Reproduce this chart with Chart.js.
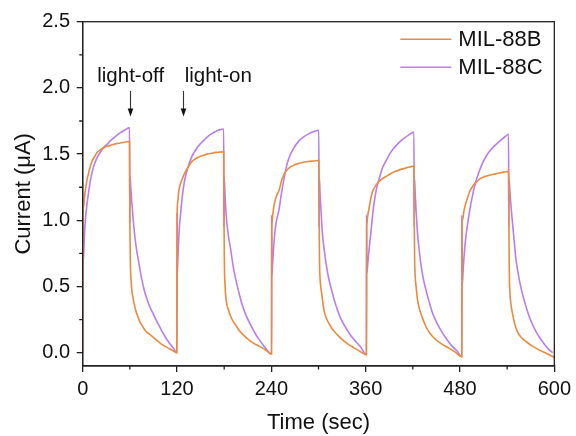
<!DOCTYPE html>
<html lang="en">
<head>
    <meta charset="UTF-8">
    <title>MIL-88B / MIL-88C photocurrent</title>
    <script src="https://cdn.jsdelivr.net/npm/chart.js@4.4.1/dist/chart.umd.min.js"></script>
    <style>
        body {
            margin: 0;
            background-color: #ffffff;
        }
        #wrap {
            width: 576px;
            height: 436px;
        }
    </style>
</head>
<body>
    <div id="wrap">
        <canvas id="photoChart" width="576" height="436"></canvas>
    </div>

    <script>
        // MIL-88B (orange) - time (sec) and current (uA)
        const timeB = [
            0, 0.3, 1, 2, 3, 5, 8, 11.5, 15, 18, 22, 26, 30, 35, 40, 47.6, 53, 59.6,
            60, 60.5, 61.2, 62, 63, 64.8, 67, 69, 72, 75, 80, 86, 92, 98.5, 105, 111, 115, 119.8,
            120.2, 121, 122, 124, 126.5, 130, 133, 136, 139, 143, 147.8, 153, 158.4, 164, 169, 174, 179.4,
            179.8, 180.2, 181, 182.5, 185, 188, 191, 194.5, 200, 207, 215, 224, 232, 240.3,
            240.5, 241, 242, 244, 247, 250, 253, 256, 259, 262.4, 268, 275, 281, 288, 294, 300.4,
            300.8, 301.3, 302, 304, 307, 310, 313.4, 318, 324, 331, 338.9, 346, 353, 361,
            361.2, 361.6, 362.5, 364, 366, 368.4, 371.5, 375, 380, 385.6, 391, 398, 404, 411, 416, 421.4,
            421.8, 422.3, 423, 424.5, 426, 428, 430, 433, 436.5, 442, 449, 457, 466, 474, 482.4,
            482.6, 483.5, 485, 487, 489.6, 492.5, 496, 500, 504.5, 510, 517, 523, 530, 536, 541.8,
            542.2, 542.7, 543.5, 545, 547, 550, 553, 558, 564, 572, 581, 590, 600
        ];
        const currentB = [
            0, 1.04, 1.10, 1.16, 1.21, 1.29, 1.37, 1.44, 1.48, 1.51, 1.53, 1.546, 1.557, 1.566, 1.575, 1.584, 1.590, 1.595,
            1.00, 0.72, 0.58, 0.51, 0.45, 0.39, 0.33, 0.29, 0.245, 0.21, 0.165, 0.135, 0.105, 0.073, 0.048, 0.028, 0.015, 0.0,
            1.06, 1.14, 1.21, 1.27, 1.31, 1.36, 1.39, 1.42, 1.445, 1.463, 1.478, 1.49, 1.50, 1.507, 1.513, 1.515, 1.517,
            0.98, 0.70, 0.52, 0.40, 0.33, 0.28, 0.24, 0.21, 0.16, 0.12, 0.08, 0.05, 0.025, -0.01,
            0.93, 0.99, 1.05, 1.13, 1.19, 1.23, 1.30, 1.345, 1.375, 1.395, 1.415, 1.43, 1.438, 1.445, 1.448, 1.452,
            1.00, 0.68, 0.56, 0.45, 0.32, 0.26, 0.22, 0.175, 0.136, 0.095, 0.06, 0.035, 0.01, -0.015,
            0.92, 0.98, 1.03, 1.08, 1.15, 1.21, 1.25, 1.28, 1.31, 1.33, 1.35, 1.37, 1.383, 1.395, 1.403, 1.41,
            0.98, 0.70, 0.58, 0.48, 0.40, 0.34, 0.30, 0.25, 0.20, 0.145, 0.10, 0.065, 0.035, 0.005, -0.03,
            0.97, 1.01, 1.07, 1.12, 1.17, 1.22, 1.256, 1.285, 1.31, 1.327, 1.34, 1.348, 1.357, 1.364, 1.37,
            0.98, 0.62, 0.46, 0.36, 0.29, 0.21, 0.16, 0.115, 0.085, 0.05, 0.02, -0.005, -0.035
        ];

        // MIL-88C (purple)
        const timeC = [
            0, 0.3, 1, 2, 3, 5, 7, 10, 13.6, 18, 22, 26, 30.6, 35, 39, 43, 47.6, 53, 59.6,
            59.9, 60.3, 61, 62.4, 64.8, 66.5, 68.8, 72, 75, 78, 81.5, 86, 90, 94, 98.5, 103, 107, 112, 116, 119.8,
            120, 120.3, 121, 122, 123, 124.4, 126.5, 128.7, 131.5, 135, 138, 141.4, 145, 150, 155, 160.5, 166, 171, 175, 179.4,
            179.7, 180.1, 181, 182.5, 185, 188, 191, 194.5, 198.5, 203, 208, 213.6, 220, 226.3, 232, 240.3,
            240.4, 240.7, 241.5, 242.5, 244, 246, 249.7, 253, 256, 259, 262.4, 268, 275, 281, 288, 294, 300.4,
            300.7, 301.1, 302, 303.5, 305, 307, 309, 312, 315.5, 320, 324, 329, 334.6, 341, 347.4, 354, 361,
            361.2, 361.5, 362.5, 364, 366.5, 368.5, 370.7, 373.5, 377, 381, 385.6, 390.5, 396, 402, 409, 415, 421.4,
            421.8, 422.2, 423, 424.5, 426, 428, 430, 433, 436.5, 440.5, 445, 451, 457.7, 464, 470, 476, 482.4,
            482.5, 482.8, 484, 485, 487, 489.6, 492.5, 496, 500, 504.5, 508.5, 513, 518, 523.6, 529, 534, 538, 541.8,
            542.1, 542.5, 543.5, 545, 547, 549, 551, 554, 557.6, 562, 566, 571, 576.7, 583, 589.4, 594, 598
        ];
        const currentC = [
            0, 0.64, 0.72, 0.86, 0.97, 1.10, 1.19, 1.31, 1.40, 1.47, 1.51, 1.545, 1.57, 1.60, 1.62, 1.64, 1.66, 1.68, 1.70,
            0.98, 1.33, 1.26, 1.14, 0.97, 0.87, 0.77, 0.66, 0.56, 0.48, 0.41, 0.34, 0.29, 0.24, 0.19, 0.14, 0.10, 0.06, 0.03, 0.0,
            1.06, 0.59, 0.70, 0.84, 0.95, 1.04, 1.17, 1.27, 1.35, 1.42, 1.47, 1.51, 1.545, 1.58, 1.61, 1.64, 1.66, 1.677, 1.685, 1.69,
            0.95, 1.32, 1.20, 1.04, 0.90, 0.79, 0.67, 0.56, 0.46, 0.36, 0.28, 0.21, 0.14, 0.085, 0.04, -0.01,
            1.04, 0.58, 0.66, 0.76, 0.88, 0.98, 1.08, 1.21, 1.31, 1.40, 1.47, 1.54, 1.60, 1.63, 1.655, 1.67, 1.68,
            0.95, 1.32, 1.20, 1.04, 0.90, 0.79, 0.70, 0.59, 0.50, 0.40, 0.325, 0.25, 0.19, 0.13, 0.085, 0.04, -0.015,
            1.04, 0.60, 0.66, 0.76, 0.90, 1.02, 1.13, 1.23, 1.31, 1.39, 1.445, 1.50, 1.546, 1.585, 1.62, 1.645, 1.667,
            0.95, 1.31, 1.20, 1.04, 0.90, 0.78, 0.68, 0.57, 0.48, 0.39, 0.30, 0.22, 0.15, 0.095, 0.05, 0.015, -0.03,
            1.04, 0.51, 0.62, 0.715, 0.85, 0.97, 1.08, 1.19, 1.29, 1.37, 1.43, 1.48, 1.525, 1.56, 1.59, 1.616, 1.635, 1.65,
            0.95, 1.31, 1.22, 1.10, 0.97, 0.84, 0.715, 0.60, 0.49, 0.39, 0.31, 0.23, 0.16, 0.10, 0.05, 0.02, 0.0
        ];

        const seriesNames = ['MIL-88B', 'MIL-88C'];
        const seriesColors = ['#ec8a3e', '#b97cf2'];

        // axis ticks
        const xMajorTicks = [0, 120, 240, 360, 480, 600];
        const xMinorTicks = [60, 180, 300, 420, 540];
        const yMajorTicks = [0, 0.5, 1.0, 1.5, 2.0, 2.5];
        const yMinorTicks = [0.25, 0.75, 1.25, 1.75, 2.25];

        // light-off / light-on markers (arrow x in sec, label centre x in sec)
        const noteLabels = ['light-off', 'light-on'];
        const noteArrowTimes = [60.4, 128.2];
        const noteTextTimes = [61, 172.5];

        const FONT = "'Liberation Sans', Arial, sans-serif";
        const AXIS_COLOR = '#222222';

        function toPoints(xs, ys) {
            return xs.map((x, i) => ({ x: x, y: ys[i] }));
        }

        // frame, minor ticks, arrows and legend
        const extrasPlugin = {
            id: 'extras',
            afterDraw(chart) {
                const c = chart.ctx;
                const area = chart.chartArea;
                const xs = chart.scales.x;
                const ys = chart.scales.y;

                c.save();
                c.strokeStyle = AXIS_COLOR;
                c.lineWidth = 1.3;
                c.strokeRect(area.left, area.top, area.right - area.left, area.bottom - area.top);

                // minor ticks (shorter)
                c.beginPath();
                xMinorTicks.forEach(v => {
                    const px = xs.getPixelForValue(v);
                    c.moveTo(px, area.bottom);
                    c.lineTo(px, area.bottom + 3.5);
                });
                yMinorTicks.forEach(v => {
                    const py = ys.getPixelForValue(v);
                    c.moveTo(area.left, py);
                    c.lineTo(area.left - 3.5, py);
                });
                c.stroke();

                // arrows with labels
                c.fillStyle = '#111111';
                c.strokeStyle = '#333333';
                c.lineWidth = 1.1;
                c.font = '20.5px ' + FONT;
                c.textAlign = 'center';
                c.textBaseline = 'alphabetic';
                noteLabels.forEach((txt, i) => {
                    c.fillText(txt, xs.getPixelForValue(noteTextTimes[i]), ys.getPixelForValue(2.048));
                    const ax = Math.round(xs.getPixelForValue(noteArrowTimes[i])) + 0.5;
                    const y0 = ys.getPixelForValue(1.977);
                    const y1 = ys.getPixelForValue(1.784);
                    c.beginPath();
                    c.moveTo(ax, y0);
                    c.lineTo(ax, y1 - 6);
                    c.stroke();
                    c.beginPath();
                    c.moveTo(ax - 2.8, y1 - 8);
                    c.lineTo(ax + 2.8, y1 - 8);
                    c.lineTo(ax, y1);
                    c.closePath();
                    c.fill();
                });

                // legend
                c.font = '22px ' + FONT;
                c.textAlign = 'left';
                c.textBaseline = 'middle';
                seriesNames.forEach((name, i) => {
                    const ly = area.top + 17.6 + i * 28;
                    c.strokeStyle = seriesColors[i];
                    c.lineWidth = 1.5;
                    c.beginPath();
                    c.moveTo(area.right - 154, ly);
                    c.lineTo(area.right - 103, ly);
                    c.stroke();
                    c.fillStyle = '#111111';
                    c.fillText(name, area.right - 96, ly + 1);
                });
                c.restore();
            }
        };

        const ctx = document.getElementById('photoChart').getContext('2d');

        const chart = new Chart(ctx, {
            type: 'scatter',
            data: {
                datasets: [
                    {
                        label: seriesNames[0],
                        data: toPoints(timeB, currentB),
                        borderColor: seriesColors[0],
                        borderWidth: 1.6,
                        showLine: true,
                        pointRadius: 0,
                        cubicInterpolationMode: 'monotone'
                    },
                    {
                        label: seriesNames[1],
                        data: toPoints(timeC, currentC),
                        borderColor: seriesColors[1],
                        borderWidth: 1.6,
                        showLine: true,
                        pointRadius: 0,
                        cubicInterpolationMode: 'monotone'
                    }
                ]
            },
            options: {
                responsive: false,
                animation: false,
                devicePixelRatio: 1,
                layout: {
                    padding: { left: 0, top: 21.7, right: 20.7, bottom: 0 }
                },
                plugins: {
                    legend: { display: false },
                    tooltip: { enabled: false }
                },
                scales: {
                    x: {
                        type: 'linear',
                        min: 0,
                        max: 600,
                        afterBuildTicks: (scale) => {
                            scale.ticks = xMajorTicks.map(v => ({ value: v }));
                        },
                        afterFit: (scale) => { scale.height = 70; },
                        ticks: {
                            color: '#111111',
                            font: { family: FONT, size: 20 },
                            padding: 5,
                            maxRotation: 0,
                            callback: (v) => String(v)
                        },
                        grid: {
                            drawOnChartArea: false,
                            color: AXIS_COLOR,
                            lineWidth: 1.3,
                            tickLength: 6
                        },
                        border: { color: AXIS_COLOR, width: 1.3 },
                        title: {
                            display: true,
                            text: 'Time (sec)',
                            color: '#111111',
                            font: { family: FONT, size: 22 },
                            padding: { top: 0, bottom: 0 }
                        }
                    },
                    y: {
                        type: 'linear',
                        min: -0.1,
                        max: 2.5,
                        afterBuildTicks: (scale) => {
                            scale.ticks = yMajorTicks.map(v => ({ value: v }));
                        },
                        afterFit: (scale) => { scale.width = 82.7; },
                        ticks: {
                            color: '#111111',
                            font: { family: FONT, size: 20 },
                            padding: 6.7,
                            callback: (v) => v.toFixed(1)
                        },
                        grid: {
                            drawOnChartArea: false,
                            color: AXIS_COLOR,
                            lineWidth: 1.3,
                            tickLength: 6
                        },
                        border: { color: AXIS_COLOR, width: 1.3 },
                        title: {
                            display: true,
                            text: 'Current (μA)',
                            color: '#111111',
                            font: { family: FONT, size: 22 },
                            padding: { top: 10.8, bottom: 0 }
                        }
                    }
                }
            },
            plugins: [extrasPlugin]
        });
    </script>
</body>
</html>
